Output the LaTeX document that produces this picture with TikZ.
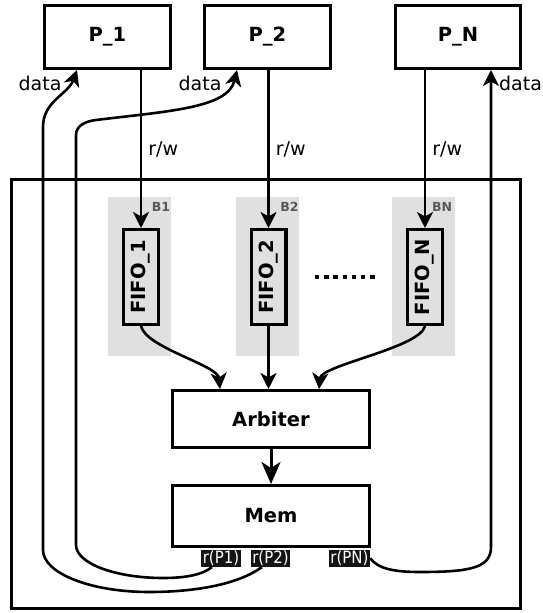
\documentclass[tikz,border=0pt]{standalone}
\usepackage{fontspec}
\usepackage{graphicx}
\setmainfont{DejaVu Sans}
\newfontfamily\portfont[FakeStretch=0.88]{DejaVu Sans}
\usetikzlibrary{arrows.meta}

\begin{document}
\begin{tikzpicture}[x=1pt,y=1pt,
  unit/.style={draw,line width=3.1pt,inner sep=0pt,font=\fontsize{19.5}{22}\selectfont\bfseries},
  proc/.style={unit,minimum width=125.9pt,minimum height=62.9pt},
  fifo/.style={unit,minimum width=34.9pt,minimum height=94.9pt},
  stage/.style={unit,minimum width=196.9pt},
  bank/.style={fill=black!12,inner sep=0pt,minimum width=63pt,minimum height=159pt},
  tag/.style={text=black!65,inner sep=0pt,font=\fontsize{12.5}{14}\selectfont\bfseries},
  port/.style={fill=black!92,text=white,inner xsep=1.5pt,inner ysep=1pt,anchor=north,font=\portfont\fontsize{17}{19}\selectfont},
  note/.style={inner sep=0pt,font=\fontsize{19}{21}\selectfont},
  flow/.style={-{Stealth[length=16pt,width=16pt,inset=4.5pt]},line width=2.6pt}]
\useasboundingbox (0,0) rectangle (543,613);
% processors
\node[proc] (p1) at (107.5,576) {P\_1};
\node[proc] (p2) at (267.5,576) {P\_2};
\node[proc,minimum width=124.9pt] (pn) at (458,576) {P\_N};
% shared block
\node[draw,line width=2.6pt,inner sep=0pt,minimum width=509.4pt,minimum height=429.4pt] (sys) at (266,219) {};
\node[bank] (b1) at (139.5,336.5) {};
\node[bank] (b2) at (267,336.5) {};
\node[bank] (bn) at (423.5,336.5) {};
\node[tag] (t1) at (161,406) {B1};
\node[tag] (t2) at (289.5,406) {B2};
\node[tag] (tn) at (442,406) {BN};
\node[fifo] (fifo1) at (141,336) {\rotatebox{90}{FIFO\_1}};
\node[fifo] (fifo2) at (268.5,336) {\rotatebox{90}{FIFO\_2}};
\node[fifo] (fifon) at (425,336) {\rotatebox{90}{FIFO\_N}};
\draw[line width=4.2pt,dash pattern=on 4.4pt off 4.8pt] (315,336) -- (376,336);
\node[stage,minimum height=56.9pt] (arb) at (271,194) {Arbiter};
\node[stage,minimum height=60.9pt] (mem) at (271,97) {Mem};
\node[port] (rp1) at (221,63.5) {r(P1)};
\node[port] (rp2) at (270.5,63.5) {r(P2)};
\node[port] (rpn) at (349.5,63.5) {r(PN)};
\node[note] (d1) at (40,530) {data};
\node[note] (d2) at (200,530) {data};
\node[note] (dn) at (520.5,530) {data};
% requests
\draw[flow] (fifo1.north |- p1.south) -- node[note,right=6pt] (rw1) {r/w} (fifo1.north);
\draw[flow] (fifo2.north |- p2.south) -- node[note,right=6pt] (rw2) {r/w} (fifo2.north);
\draw[flow] (fifon.north |- pn.south) -- node[note,right=6pt] (rwn) {r/w} (fifon.north);
\draw[flow] (fifo1.south) .. controls +(5,-22) and +(-2,24) .. ([xshift=-51pt]arb.north);
\draw[flow] (fifo2.south) -- (fifo2.south |- arb.north);
\draw[flow] (fifon.south) .. controls +(-5,-22) and +(2,24) .. ([xshift=48pt]arb.north);
\draw[flow,-{Stealth[length=22pt,width=19pt,inset=6pt]},line width=3pt] (arb) -- (mem);
% read data back
\draw[flow] ([xshift=-8.5pt]rp2.south) .. controls (240,30) and (200,21) .. (149,21)
  arc[start angle=-90,end angle=-180,x radius=106,y radius=42] -- (43,486)
  to[out=90,in=-110] ([xshift=-30.5pt]p1.south);
\draw[flow] ([xshift=-9pt]rp1.south) .. controls (202,38) and (185,35) .. (163,35)
  arc[start angle=-90,end angle=-180,x radius=87,y radius=33] -- (76,478)
  to[out=90,in=187] (96,493) .. controls (170,502) and (228,505) .. ([xshift=-30.5pt]p2.south);
\draw[flow] (rpn.east) .. controls (378,44) and (395,41) .. (420,41)
  .. controls (470,41) and (491,45) .. (491,66) -- ([xshift=33pt]pn.south);
\end{tikzpicture}
\end{document}
